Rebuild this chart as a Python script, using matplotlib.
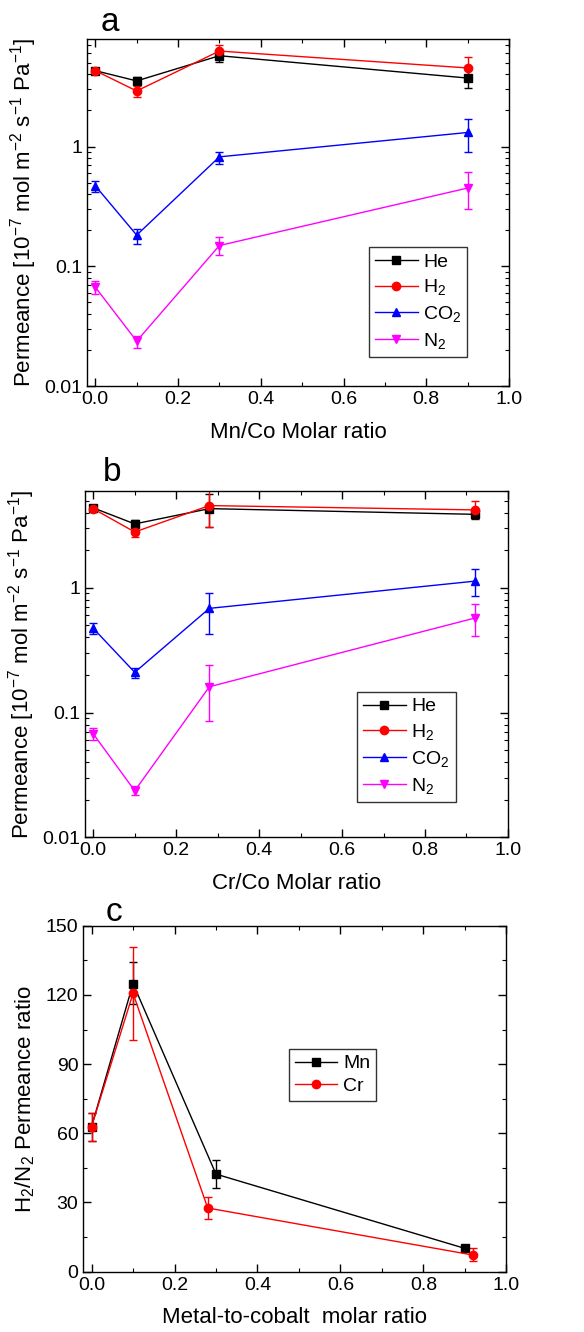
import numpy as np
import matplotlib
matplotlib.use('Agg')
import matplotlib.pyplot as plt
from matplotlib.ticker import FixedLocator, FuncFormatter, MultipleLocator, LogLocator, NullFormatter

plt.rcParams['font.family'] = ['Liberation Sans', 'DejaVu Sans']
plt.rcParams['mathtext.default'] = 'regular'

##
## data
##
mn_x = [0.0, 0.1, 0.3, 0.9]
a_he = [4.3, 3.53, 5.73, 3.73]
a_he_lo = [4.1, 3.3, 5.1, 3.1]
a_he_hi = [4.5, 3.8, 6.3, 4.4]
a_h2 = [4.3, 2.91, 6.27, 4.53]
a_h2_lo = [4.1, 2.6, 5.6, 3.6]
a_h2_hi = [4.5, 3.2, 7.0, 5.56]
a_co2 = [0.47, 0.182, 0.82, 1.31]
a_co2_lo = [0.42, 0.153, 0.72, 0.90]
a_co2_hi = [0.52, 0.205, 0.90, 1.71]
a_n2 = [0.067, 0.0237, 0.149, 0.45]
a_n2_lo = [0.059, 0.0207, 0.124, 0.30]
a_n2_hi = [0.075, 0.0263, 0.175, 0.61]

cr_x = [0.0, 0.1, 0.28, 0.92]
b_he = [4.37, 3.25, 4.31, 3.88]
b_he_lo = [4.1, 3.0, 3.08, 3.56]
b_he_hi = [4.6, 3.5, 5.6, 4.2]
b_h2 = [4.3, 2.8, 4.56, 4.21]
b_h2_lo = [4.05, 2.55, 3.08, 3.6]
b_h2_hi = [4.55, 3.05, 6.5, 5.0]
b_co2 = [0.473, 0.21, 0.684, 1.13]
b_co2_lo = [0.43, 0.188, 0.423, 0.863]
b_co2_hi = [0.52, 0.228, 0.906, 1.42]
b_n2 = [0.0675, 0.0236, 0.161, 0.572]
b_n2_lo = [0.06, 0.022, 0.0848, 0.41]
b_n2_hi = [0.0755, 0.0256, 0.239, 0.736]

c_mn = [62.9, 124.9, 42.3, 10.1]
c_mn_lo = [56.8, 116.0, 36.1, 8.8]
c_mn_hi = [68.9, 134.1, 48.4, 11.4]
c_cr = [62.9, 120.7, 27.6, 7.2]
c_cr_lo = [56.8, 100.4, 22.7, 4.6]
c_cr_hi = [68.9, 140.6, 32.2, 10.1]

gases = ['He', 'H$_2$', 'CO$_2$', 'N$_2$']
gas_colors = ['#000000', '#ff0000', '#0000ff', '#ff00ff']
gas_markers = ['s', 'o', '^', 'v']
metals = ['Mn', 'Cr']

perm_label = 'Permeance [10$^{-7}$ mol m$^{-2}$ s$^{-1}$ Pa$^{-1}$]'


def err(y, lo, hi):
    y = np.array(y)
    return [y - np.array(lo), np.array(hi) - y]


def style_axes(ax):
    ax.tick_params(which='both', direction='in', top=True, right=True, labelsize=14)
    ax.tick_params(which='major', length=6, width=1)
    ax.tick_params(which='minor', length=3, width=0.8)
    for s in ax.spines.values():
        s.set_linewidth(1.0)
    ax.set_xlim(-0.02, 1.0)
    ax.xaxis.set_major_locator(MultipleLocator(0.2))
    ax.xaxis.set_minor_locator(MultipleLocator(0.1))
    ax.xaxis.set_major_formatter(FuncFormatter(lambda v, p: '%.1f' % v))


def add_legend(ax, handles, labels, pos, spacing):
    leg = ax.legend(handles, labels, loc='lower left', bbox_to_anchor=pos, borderaxespad=0,
                    fontsize=14, handlelength=2.2, handletextpad=0.3, borderpad=0.3,
                    labelspacing=spacing, fancybox=False, framealpha=1, edgecolor='#333333')
    leg.get_frame().set_linewidth(1.0)


def perm_panel(ax, x, series, ymax, xlabel, leg_pos):
    lines = []
    for i, (y, lo, hi) in enumerate(series):
        c = ax.errorbar(x, y, yerr=err(y, lo, hi), color=gas_colors[i], marker=gas_markers[i],
                        ms=6, lw=1.0, elinewidth=1.0, capsize=3, capthick=1.0)
        lines.append(c[0])
    ax.set_yscale('log')
    ax.set_ylim(0.01, ymax)
    ax.yaxis.set_major_locator(FixedLocator([0.01, 0.1, 1]))
    ax.yaxis.set_major_formatter(FuncFormatter(lambda v, p: '%g' % v))
    ax.yaxis.set_minor_locator(LogLocator(base=10, subs=np.arange(2, 10)))
    ax.yaxis.set_minor_formatter(NullFormatter())
    style_axes(ax)
    ax.set_xlabel(xlabel, fontsize=16, labelpad=10)
    ax.set_ylabel(perm_label, fontsize=16, labelpad=4)
    add_legend(ax, lines, gases, leg_pos, 0.35)


fig = plt.figure(figsize=(5.84, 13.32), dpi=100)

###################
## panel a
###################
ax1 = fig.add_axes([0.149, 0.7102, 0.7226, 0.2605])
perm_panel(ax1, mn_x,
           [(a_he, a_he_lo, a_he_hi), (a_h2, a_h2_lo, a_h2_hi),
            (a_co2, a_co2_lo, a_co2_hi), (a_n2, a_n2_lo, a_n2_hi)],
           7.9, 'Mn/Co Molar ratio', (0.668, 0.084))
fig.text(0.188, 0.983, 'a', fontsize=24, ha='center', va='center')

###################
## panel b
###################
ax2 = fig.add_axes([0.1455, 0.3714, 0.7243, 0.2602])
perm_panel(ax2, cr_x,
           [(b_he, b_he_lo, b_he_hi), (b_h2, b_h2_lo, b_h2_hi),
            (b_co2, b_co2_lo, b_co2_hi), (b_n2, b_n2_lo, b_n2_hi)],
           6.0, 'Cr/Co Molar ratio', (0.643, 0.103))
fig.text(0.192, 0.645, 'b', fontsize=24, ha='center', va='center')

###################
## panel c
###################
ax3 = fig.add_axes([0.1426, 0.0453, 0.7243, 0.2597])
h1 = ax3.errorbar(mn_x, c_mn, yerr=err(c_mn, c_mn_lo, c_mn_hi), color='#000000', marker='s',
                  ms=6, lw=1.0, elinewidth=1.0, capsize=3, capthick=1.0)
h2 = ax3.errorbar(cr_x, c_cr, yerr=err(c_cr, c_cr_lo, c_cr_hi), color='#ff0000', marker='o',
                  ms=6, lw=1.0, elinewidth=1.0, capsize=3, capthick=1.0)
ax3.set_ylim(0, 150)
ax3.yaxis.set_major_locator(MultipleLocator(30))
ax3.yaxis.set_minor_locator(MultipleLocator(15))
style_axes(ax3)
ax3.set_xlabel('Metal-to-cobalt  molar ratio', fontsize=16, labelpad=10)
ax3.set_ylabel('H$_2$/N$_2$ Permeance ratio', fontsize=16, labelpad=6)
add_legend(ax3, [h1[0], h2[0]], metals, (0.486, 0.494), 0.25)
fig.text(0.195, 0.315, 'c', fontsize=24, ha='center', va='center')

plt.savefig('out.png', dpi=100)
